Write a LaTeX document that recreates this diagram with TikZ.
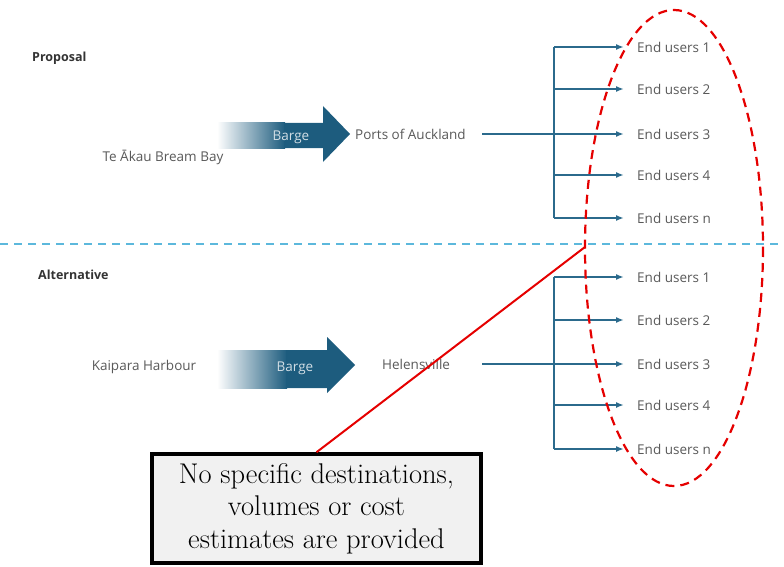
\documentclass[tikz,border=0pt]{standalone}
\usepackage{fontspec}
\setsansfont{Open Sans}
\usetikzlibrary{arrows.meta,positioning,calc}
\definecolor{barge}{HTML}{1D5C7E}
\definecolor{link}{HTML}{2B6A8C}
\definecolor{sep}{HTML}{5CB8DC}
\definecolor{note}{HTML}{F1F1F1}
\tikzset{>=latex}
\tikzset{
  plain/.style={font=\sffamily\fontsize{13.5}{15}\selectfont, text=black!65, inner sep=0pt},
  head/.style={font=\sffamily\bfseries\fontsize{12.5}{14}\selectfont, text=black!80, inner sep=0pt, anchor=west},
  user/.style={plain, anchor=west},
  branch/.style={link, line width=2pt, -{Latex[length=8pt,width=6pt]}},
  trunk/.style={link, line width=2pt},
  ring/.style={red!90!black, line width=2.2pt, dash pattern=on 9pt off 6pt},
}

\begin{document}
\begin{tikzpicture}[x=1pt,y=-1pt]
    \useasboundingbox (0,0) rectangle (784,567);

    % proposal
    \node[head] (prop) at (32,58) {Proposal};
    \fill[left color=white, right color=barge] (217,123) rectangle (285,148);
    \fill[barge] (284,123) -- (323,123) -- (323,106) -- (350,134) -- (323,162) -- (323,148) -- (284,148) -- cycle;
    \node[plain, text=white!80!barge] (barge1) at (291,137) {Barge};
    \node[plain] (src1) at (163,157) {Te Ākau Bream Bay};
    \node[plain, anchor=west] (port1) at (355,134) {Ports of Auckland};
    \coordinate (out1) at (482,134);
    \coordinate (hub1) at (554,134);
    \foreach \y [count=\i] in {47,89,134,175,218} {
      \node[user] (eu1\i) at (637,\y) {End users \ifnum\i=5 n\else\i\fi};
    }
    \draw[trunk] (out1) -- (hub1);
    \draw[trunk] (hub1 |- eu11) -- (hub1 |- eu15);
    \foreach \i in {1,...,5} \draw[branch] (hub1 |- eu1\i) -- ([xshift=-13pt]eu1\i.west);

    \draw[sep, line width=2.2pt, dash pattern=on 8pt off 6pt] (0,244) -- (784,244);

    % alternative
    \node[head] (alt) at (38,275) {Alternative};
    \fill[left color=white, right color=barge] (217,350) rectangle (287,388);
    \fill[barge] (286,350) -- (327,350) -- (327,337) -- (355,365) -- (327,393) -- (327,388) -- (286,388) -- cycle;
    \node[plain, text=white!80!barge] (barge2) at (295,368) {Barge};
    \node[plain] (src2) at (144,367) {Kaipara Harbour};
    \node[plain, anchor=west] (port2) at (382,364) {Helensville};
    \coordinate (out2) at (482,364);
    \coordinate (hub2) at (554,364);
    \foreach \y [count=\i] in {277,320,364,405,449} {
      \node[user] (eu2\i) at (637,\y) {End users \ifnum\i=5 n\else\i\fi};
    }
    \draw[trunk] (out2) -- (hub2);
    \draw[trunk] (hub2 |- eu21) -- (hub2 |- eu25);
    \foreach \i in {1,...,5} \draw[branch] (hub2 |- eu2\i) -- ([xshift=-13pt]eu2\i.west);

    % callout
    \draw[ring] (674,248) ellipse [x radius=89, y radius=238];
    \node[draw, line width=3.5pt, fill=note, minimum width=329pt, minimum height=109pt, align=center,
          font=\fontsize{28.5}{32.5}\selectfont] (callout) at (316.5,508.5)
          {No specific destinations,\\ volumes or cost\\ estimates are provided};
    \draw[red!90!black, line width=2pt] (585,247) -- (callout.north);
  \end{tikzpicture}
\end{document}
